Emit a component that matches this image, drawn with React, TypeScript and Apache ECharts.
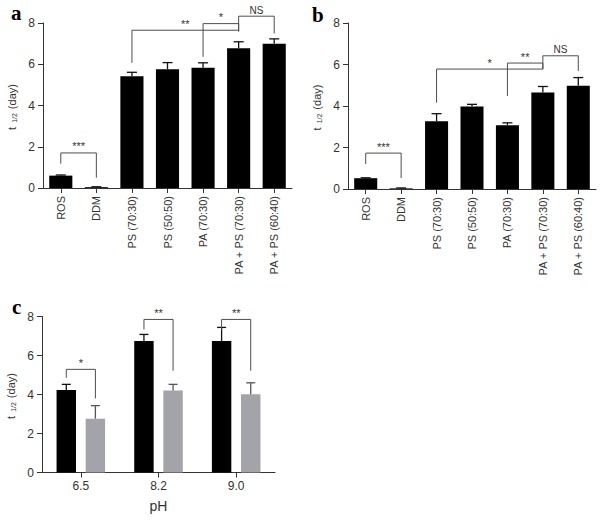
import React, { useEffect, useRef } from 'react';
import * as echarts from 'echarts';

// ---------- data ----------
const groups = ['ROS', 'DDM', 'PS (70:30)', 'PS (50:50)', 'PA (70:30)', 'PA + PS (70:30)', 'PA + PS (60:40)'];
const aValues = [0.6, 0.04, 5.42, 5.76, 5.83, 6.78, 6.99];
const aErrors = [0.03, 0.02, 0.19, 0.32, 0.24, 0.31, 0.24];
const bValues = [0.52, 0.03, 3.27, 3.97, 3.07, 4.65, 4.97];
const bErrors = [0.02, 0.02, 0.36, 0.11, 0.12, 0.29, 0.4];

const pHLabels = ['6.5', '8.2', '9.0'];
const cBlack = [4.23, 6.75, 6.74];
const cBlackErr = [0.29, 0.33, 0.7];
const cGray = [2.76, 4.2, 4.01];
const cGrayErr = [0.67, 0.32, 0.59];

const yMin = 0;
const yMax = 8;
const yStep = 2;

// brackets: [leftCategory, leftLegBottom, rightCategory, rightLegBottom, top]
const aBrackets = [
  [0, 1.18, 1, 0.5, 1.7],
  [2, 6.07, 5, 7.6, 7.65],
  [4, 6.36, 5, 7.6, 7.97],
  [5, 7.6, 6, 7.49, 8.33],
];
const aBracketLabels = ['***', '**', '*', 'NS'];
const bBrackets = [
  [0, 1.2, 1, 0.53, 1.73],
  [2, 4.16, 5, 5.78, 5.78],
  [4, 4.48, 5, 5.78, 6.07],
  [5, 5.78, 6, 5.69, 6.42],
];
const bBracketLabels = ['***', '*', '**', 'NS'];
const cBrackets = [
  [0, 4.86, 0, 3.8, 5.29],
  [1, 7.33, 1, 5.22, 7.85],
  [2, 7.3, 2, 5.22, 7.85],
];
const cBracketLabels = ['*', '**', '**'];

// ---------- styling ----------
const FONT = 'Arial, Liberation Sans, Helvetica, sans-serif';
const SERIF = 'Liberation Serif, Times New Roman, serif';
const INK = '#333';
const BRACKET = '#4d4d4d';
const GRAY_BAR = '#a3a3aa';
const C_OFFSET = 0.1875; // bar centre offset (fraction of band) for barWidth 25%, barGap 50%

function errorRender(offsetFrac: number, capHalf: number, color: string) {
  return (_params: any, api: any) => {
    const cat = api.value(0);
    const v = api.value(1);
    const e = api.value(2);
    const band = api.size([1, 0])[0];
    const p0 = api.coord([cat, v]);
    const p1 = api.coord([cat, v + e]);
    const x = p0[0] + offsetFrac * band;
    return {
      type: 'group',
      children: [
        { type: 'line', shape: { x1: x, y1: p0[1], x2: x, y2: p1[1] }, style: { stroke: color, lineWidth: 1.3 } },
        { type: 'line', shape: { x1: x - capHalf, y1: p1[1], x2: x + capHalf, y2: p1[1] }, style: { stroke: color, lineWidth: 1.3 } },
      ],
    };
  };
}

function bracketRender(labels: string[], lOff: number, rOff: number) {
  return (params: any, api: any) => {
    const band = api.size([1, 0])[0];
    const l = api.value(0);
    const ll = api.value(1);
    const r = api.value(2);
    const rl = api.value(3);
    const top = api.value(4);
    const pLT = api.coord([l, top]);
    const pLB = api.coord([l, ll]);
    const pRT = api.coord([r, top]);
    const pRB = api.coord([r, rl]);
    const xL = pLT[0] + lOff * band;
    const xR = pRT[0] + rOff * band;
    const label = labels[params.dataIndex];
    return {
      type: 'group',
      children: [
        {
          type: 'polyline',
          shape: { points: [[xL, pLB[1]], [xL, pLT[1]], [xR, pRT[1]], [xR, pRB[1]]] },
          style: { stroke: BRACKET, lineWidth: 1, fill: 'none' },
        },
        {
          type: 'text',
          x: (xL + xR) / 2,
          y: pLT[1] - 1,
          style: {
            text: label,
            fontSize: label === 'NS' ? 10 : 11,
            fontFamily: FONT,
            fill: INK,
            align: 'center',
            verticalAlign: 'bottom',
          },
        },
      ],
    };
  };
}

const yName = '{t|t}{s|1/2}{t|(day)}';
const yNameRich = {
  t: { fontSize: 11, fontFamily: FONT, color: INK, padding: [0, 3, 0, 0] },
  s: { fontSize: 7, fontFamily: FONT, color: INK, padding: [6, 4, 0, 1] },
};

function yAxisFor(gridIndex: number) {
  return {
    type: 'value',
    gridIndex,
    min: yMin,
    max: yMax,
    interval: yStep,
    name: yName,
    nameLocation: 'middle',
    nameGap: 25,
    nameRotate: 90,
    nameTextStyle: { rich: yNameRich },
    axisLine: { show: true, lineStyle: { color: INK, width: 1 } },
    axisTick: { show: true, length: 5, lineStyle: { color: INK } },
    axisLabel: { fontSize: 12, color: INK, fontFamily: FONT, margin: 8 },
    splitLine: { show: false },
  };
}

function groupXAxis(gridIndex: number) {
  return {
    type: 'category',
    gridIndex,
    data: groups,
    axisLine: { show: true, lineStyle: { color: INK, width: 1 } },
    axisTick: { show: true, alignWithLabel: true, length: 5, lineStyle: { color: INK } },
    axisLabel: { rotate: 90, fontSize: 11, color: INK, fontFamily: FONT, margin: 8, interval: 0 },
  };
}

export default function App() {
  const ref = useRef<HTMLDivElement>(null);
  useEffect(() => {
    if (!ref.current) return;
    const chart = echarts.init(ref.current, undefined, { renderer: 'svg' });
    const option: any = {
      animation: false,
      backgroundColor: '#ffffff',
      grid: [
        { left: 43, top: 23, width: 249, height: 165 },
        { left: 348, top: 23, width: 248, height: 166 },
        { left: 42, top: 316.5, width: 233, height: 156 },
      ],
      xAxis: [
        groupXAxis(0),
        groupXAxis(1),
        {
          type: 'category',
          gridIndex: 2,
          data: pHLabels,
          name: 'pH',
          nameLocation: 'middle',
          nameGap: 26,
          nameTextStyle: { fontSize: 14, color: INK, fontFamily: FONT },
          axisLine: { show: true, lineStyle: { color: INK, width: 1 } },
          axisTick: { show: true, alignWithLabel: true, length: 5, lineStyle: { color: INK } },
          axisLabel: { fontSize: 12, color: INK, fontFamily: FONT, margin: 7 },
        },
      ],
      yAxis: [yAxisFor(0), yAxisFor(1), yAxisFor(2)],
      graphic: [
        { type: 'text', left: 11, top: 2, style: { text: 'a', fontSize: 21, fontWeight: 'bold', fontFamily: SERIF, fill: '#000' } },
        { type: 'text', left: 312, top: 4, style: { text: 'b', fontSize: 21, fontWeight: 'bold', fontFamily: SERIF, fill: '#000' } },
        { type: 'text', left: 12, top: 296, style: { text: 'c', fontSize: 21, fontWeight: 'bold', fontFamily: SERIF, fill: '#000' } },
      ],
      series: [
        { type: 'bar', xAxisIndex: 0, yAxisIndex: 0, data: aValues, barWidth: '65%', itemStyle: { color: '#000' } },
        {
          type: 'custom', xAxisIndex: 0, yAxisIndex: 0, z: 3,
          renderItem: errorRender(0, 5, '#111'),
          encode: { x: 0, y: 1 },
          data: aValues.map((v, i) => [i, v, aErrors[i]]),
        },
        {
          type: 'custom', xAxisIndex: 0, yAxisIndex: 0, z: 4,
          renderItem: bracketRender(aBracketLabels, 0, 0),
          encode: { x: [0, 2], y: [1, 3, 4] },
          data: aBrackets,
        },
        { type: 'bar', xAxisIndex: 1, yAxisIndex: 1, data: bValues, barWidth: '65%', itemStyle: { color: '#000' } },
        {
          type: 'custom', xAxisIndex: 1, yAxisIndex: 1, z: 3,
          renderItem: errorRender(0, 5, '#111'),
          encode: { x: 0, y: 1 },
          data: bValues.map((v, i) => [i, v, bErrors[i]]),
        },
        {
          type: 'custom', xAxisIndex: 1, yAxisIndex: 1, z: 4,
          renderItem: bracketRender(bBracketLabels, 0, 0),
          encode: { x: [0, 2], y: [1, 3, 4] },
          data: bBrackets,
        },
        { type: 'bar', xAxisIndex: 2, yAxisIndex: 2, data: cBlack, barWidth: '25%', barGap: '50%', itemStyle: { color: '#000' } },
        { type: 'bar', xAxisIndex: 2, yAxisIndex: 2, data: cGray, barWidth: '25%', barGap: '50%', itemStyle: { color: GRAY_BAR } },
        {
          type: 'custom', xAxisIndex: 2, yAxisIndex: 2, z: 3,
          renderItem: errorRender(-C_OFFSET, 4.5, '#111'),
          encode: { x: 0, y: 1 },
          data: cBlack.map((v, i) => [i, v, cBlackErr[i]]),
        },
        {
          type: 'custom', xAxisIndex: 2, yAxisIndex: 2, z: 3,
          renderItem: errorRender(C_OFFSET, 4.5, '#555'),
          encode: { x: 0, y: 1 },
          data: cGray.map((v, i) => [i, v, cGrayErr[i]]),
        },
        {
          type: 'custom', xAxisIndex: 2, yAxisIndex: 2, z: 4,
          renderItem: bracketRender(cBracketLabels, -C_OFFSET, C_OFFSET),
          encode: { x: [0, 2], y: [1, 3, 4] },
          data: cBrackets,
        },
      ],
    };
    chart.setOption(option);
    return () => chart.dispose();
  }, []);
  return (
    <div
      ref={ref}
      style={{ position: 'absolute', left: 0, top: 0, width: 602, height: 522, background: '#fff' }}
    />
  );
}
